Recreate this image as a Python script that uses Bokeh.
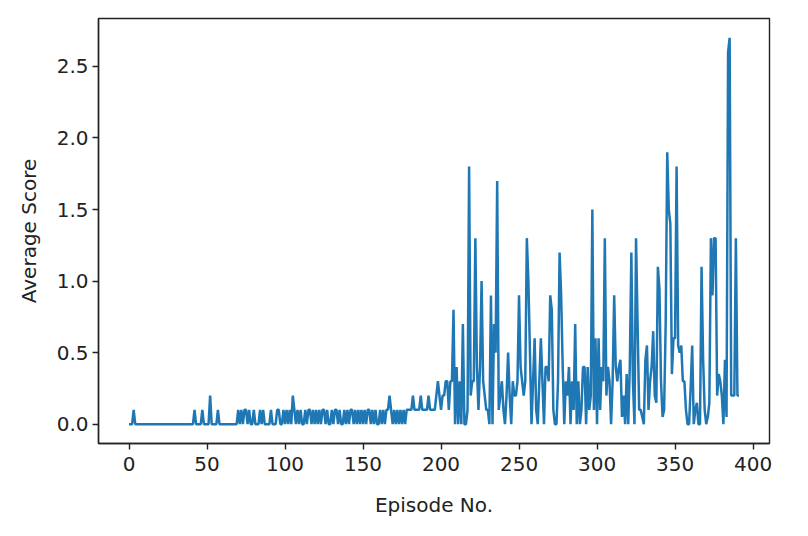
from bokeh.plotting import figure
from bokeh.models import FixedTicker, PrintfTickFormatter, Range1d, ColumnDataSource
from bokeh.embed import file_html
from bokeh.resources import INLINE

# Average score per episode
scores_000_069 = [0, 0, 0, 0.1, 0, 0, 0, 0, 0, 0,
                  0, 0, 0, 0, 0, 0, 0, 0, 0, 0,
                  0, 0, 0, 0, 0, 0, 0, 0, 0, 0,
                  0, 0, 0, 0, 0, 0, 0, 0, 0, 0,
                  0, 0, 0.1, 0, 0, 0, 0, 0.1, 0, 0,
                  0, 0, 0.2, 0, 0, 0, 0, 0.1, 0, 0,
                  0, 0, 0, 0, 0, 0, 0, 0, 0, 0]
scores_070_192 = [0.1, 0, 0.1, 0, 0.1, 0.1, 0, 0.1, 0, 0,
                  0.1, 0, 0, 0, 0.1, 0, 0.1, 0, 0, 0,
                  0, 0.1, 0, 0, 0, 0.1, 0.1, 0, 0, 0.1,
                  0, 0.1, 0, 0.1, 0, 0.2, 0.1, 0, 0.1, 0,
                  0.1, 0, 0, 0.1, 0, 0.1, 0.1, 0, 0.1, 0,
                  0.1, 0, 0.1, 0, 0.1, 0.1, 0, 0.1, 0, 0,
                  0.1, 0, 0.1, 0.1, 0, 0.1, 0, 0, 0.1, 0,
                  0.1, 0, 0.1, 0.1, 0, 0.1, 0, 0.1, 0, 0.1,
                  0, 0.1, 0, 0.1, 0.1, 0, 0.1, 0, 0.1, 0,
                  0, 0.1, 0, 0.1, 0, 0.1, 0.1, 0.2, 0.1, 0,
                  0.1, 0, 0.1, 0, 0.1, 0, 0.1, 0, 0.1, 0.1,
                  0.1, 0.1, 0.2, 0.1, 0.1, 0.1, 0.1, 0.2, 0.1, 0.1,
                  0.1, 0.1, 0.2]
scores_193_253 = [0.1, 0.1, 0.1, 0.1, 0.2, 0.3, 0.2, 0.1, 0.2, 0.2,
                  0.3, 0.3, 0.1, 0.3, 0.3, 0.8, 0.0, 0.4, 0.0, 0.3,
                  0.0, 0.7, 0.0, 0.0, 0.1, 1.8, 0.2, 0.3, 0.3, 1.3,
                  0.4, 0.1, 0.4, 1.0, 0.3, 0.2, 0.1, 0.1, 0.0, 0.9,
                  0.0, 0.7, 0.5, 1.7, 0.1, 0.2, 0.3, 0.1, 0.0, 0.2,
                  0.5, 0.2, 0.0, 0.3, 0.2, 0.2, 0.3, 0.9, 0.4, 0.3,
                  0.2]
scores_254_314 = [0.3, 1.3, 1.0, 0.5, 0.0, 0.3, 0.6, 0.1, 0.0, 0.3,
                  0.6, 0.3, 0.0, 0.4, 0.4, 0.3, 0.9, 0.8, 0.1, 0.0,
                  0.0, 0.3, 1.2, 0.9, 0.4, 0.0, 0.3, 0.2, 0.4, 0.0,
                  0.3, 0.1, 0.7, 0.0, 0.3, 0.0, 0.1, 0.4, 0.4, 0.0,
                  0.4, 0.1, 0.2, 1.5, 0.1, 0.6, 0.0, 0.6, 0.1, 0.4,
                  0.3, 1.3, 0.2, 0.4, 0.3, 0.0, 0.3, 0.9, 0.4, 0.3,
                  0.4]
scores_315_391 = [0.45, 0.05, 0.2, 0.0, 0.35, 0.0, 0.4, 1.2, 0.3, 0.0,
                  1.3, 0.7, 0.1, 0.1, 0.05, 0.0, 0.45, 0.55, 0.1, 0.3,
                  0.4, 0.65, 0.2, 0.15, 1.1, 0.95, 0.3, 0.05, 0.1, 0.7,
                  1.9, 1.5, 1.4, 0.35, 0.6, 0.6, 1.8, 0.55, 0.5, 0.55,
                  0.3, 0.3, 0.1, 0.0, 0.0, 0.25, 0.55, 0.0, 0.1, 0.15,
                  0.0, 0.0, 1.1, 0.45, 0.1, 0.0, 0.05, 0.15, 1.3, 0.9,
                  1.3, 1.3, 0.2, 0.35, 0.3, 0.2, 0.0, 0.45, 0.05, 2.6,
                  2.7, 0.2, 0.2, 0.2, 1.3, 0.2, 0.2]

scores = scores_000_069 + scores_070_192 + scores_193_253 + scores_254_314 + scores_315_391
episodes = list(range(len(scores)))

x_ticks = [0, 50, 100, 150, 200, 250, 300, 350, 400]
y_ticks = [0.0, 0.5, 1.0, 1.5, 2.0, 2.5]

# matplotlib-like 5% margins
xmin, xmax = min(episodes), max(episodes)
ymin, ymax = min(scores), max(scores)
xpad = (xmax - xmin) * 0.05
ypad = (ymax - ymin) * 0.05

p = figure(width=792, height=520, output_backend="svg", toolbar_location=None,
           x_range=Range1d(xmin - xpad, xmax + xpad),
           y_range=Range1d(ymin - ypad, ymax + ypad),
           min_border_left=98, min_border_right=23, min_border_top=18, min_border_bottom=77)

src = ColumnDataSource(dict(x=episodes, y=scores))
p.line("x", "y", source=src, line_color="#1f77b4", line_width=2.5)

p.grid.visible = False
p.outline_line_color = "#222222"
p.outline_line_width = 1.4
p.background_fill_color = "white"
p.border_fill_color = "white"

font = "DejaVu Sans"
for ax in (p.xaxis, p.yaxis):
    ax.axis_line_color = "#222222"
    ax.axis_line_width = 1.4
    ax.major_tick_line_color = "#222222"
    ax.major_tick_line_width = 1.4
    ax.major_tick_out = 6
    ax.major_tick_in = 0
    ax.minor_tick_line_color = None
    ax.major_label_text_font = font
    ax.major_label_text_font_size = "20px"
    ax.major_label_text_color = "#222222"
    ax.axis_label_text_font = font
    ax.axis_label_text_font_size = "20px"
    ax.axis_label_text_font_style = "normal"
    ax.axis_label_text_color = "#222222"

p.xaxis.ticker = FixedTicker(ticks=x_ticks)
p.yaxis.ticker = FixedTicker(ticks=y_ticks)
p.yaxis.formatter = PrintfTickFormatter(format="%.1f")
p.xaxis.axis_label = "Episode No."
p.yaxis.axis_label = "Average Score"
p.xaxis.major_label_standoff = 7
p.yaxis.major_label_standoff = 4
p.xaxis.axis_label_standoff = 19
p.yaxis.axis_label_standoff = 13

open("out.html", "w").write(file_html(p, INLINE))
